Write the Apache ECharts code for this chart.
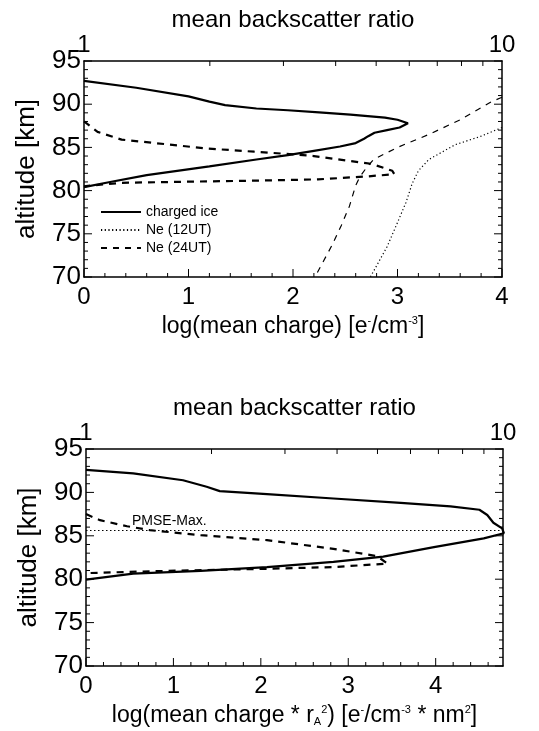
<!DOCTYPE html>
<html>
<head>
<meta charset="utf-8">
<title>mean charge profiles</title>
<script src="https://cdn.jsdelivr.net/npm/echarts@6/dist/echarts.min.js"></script>
<style>
  html, body { margin: 0; padding: 0; background: #fff; }
  #chart { width: 539px; height: 731px; }
</style>
</head>
<body>
<div id="chart"></div>
<script>
// profiles as [log value, altitude km]
var iceTop = [[0, 92.7], [0.5, 91.9], [1.0, 90.9], [1.2, 90.3], [1.35, 89.9], [1.65, 89.5], [1.95, 89.3],
  [2.25, 89.05], [2.55, 88.8], [2.88, 88.45], [3.0, 88.2], [3.1, 87.8], [3.02, 87.3], [2.9, 87.0],
  [2.78, 86.7], [2.72, 86.3], [2.68, 86.0], [2.6, 85.5], [2.45, 85.1], [2.2, 84.6], [1.95, 84.1],
  [1.65, 83.6], [1.2, 82.8], [0.6, 81.8], [0.25, 81.0], [0, 80.4]]
var iceDashTop = [[0, 88.0], [0.13, 86.8], [0.36, 85.9], [0.68, 85.5], [1.15, 84.9], [1.63, 84.5],
  [2.0, 84.2], [2.2, 84.0], [2.5, 83.5], [2.75, 83.1], [2.95, 82.3], [2.97, 81.9], [2.72, 81.65],
  [2.24, 81.3], [1.63, 81.15], [0.84, 81.0], [0.36, 80.9], [0, 80.5]]
var ne12 = [[4.0, 87.3], [3.8, 86.3], [3.55, 85.3], [3.3, 83.6], [3.2, 82.3], [3.14, 80.8], [3.08, 78.6],
  [3.0, 76.3], [2.9, 73.5], [2.8, 71.3], [2.74, 70.0]]
var ne24 = [[4.0, 90.8], [3.9, 90.3], [3.6, 88.2], [3.3, 86.5], [3.0, 85.0], [2.77, 83.6], [2.7, 82.6],
  [2.64, 81.6], [2.6, 80.6], [2.54, 78.2], [2.46, 75.9], [2.37, 73.6], [2.29, 71.8], [2.21, 70.0]]

var iceBot = [[0, 92.6], [0.54, 92.2], [1.11, 91.4], [1.38, 90.65], [1.53, 90.15], [2.07, 89.8],
  [2.83, 89.3], [3.6, 88.8], [4.17, 88.4], [4.5, 88.0], [4.59, 87.4], [4.66, 86.5], [4.76, 85.85],
  [4.78, 85.3], [4.55, 84.7], [3.98, 83.7], [3.4, 82.6], [2.83, 82.0], [2.07, 81.4], [1.31, 80.96],
  [0.54, 80.65], [0, 79.96]]
var iceDashBot = [[0, 87.5], [0.16, 86.8], [0.47, 86.1], [0.73, 85.65], [1.31, 85.07], [2.07, 84.5],
  [2.83, 83.5], [3.33, 82.65], [3.45, 81.8], [2.83, 81.4], [2.07, 81.2], [0.92, 80.96], [0, 80.7]]

var pmseAlt = 85.6
var altRange = [70, 95]
var ratioRange = [1, 10]
var xMaxTop = 4
var xMaxBot = 4.77

// tick values of the frame (drawn inward on all four sides)
var altMajor = [70, 75, 80, 85, 90, 95]
var altMinor = [71, 72, 73, 74, 76, 77, 78, 79, 81, 82, 83, 84, 86, 87, 88, 89, 91, 92, 93, 94]
var chargeMajor = [0, 1, 2, 3, 4]
var chargeMinor = [0.2, 0.4, 0.6, 0.8, 1.2, 1.4, 1.6, 1.8, 2.2, 2.4, 2.6, 2.8, 3.2, 3.4, 3.6, 3.8,
  4.2, 4.4, 4.6]
var ratioMinor = [2, 3, 4, 5, 6, 7, 8, 9]

var font = '"Liberation Sans", Arial, Helvetica, sans-serif'
var rich = {
  sup: { fontSize: 11, fontFamily: font, color: '#000', verticalAlign: 'top', lineHeight: 12 },
  sub: { fontSize: 11, fontFamily: font, color: '#000', verticalAlign: 'bottom', lineHeight: 12 }
}

var frameLine = { show: true, onZero: false, lineStyle: { color: '#000', width: 1.5 } }
var noTick = { show: false }

function valueX(grid, max, name) {
  return {
    gridIndex: grid, type: 'value', position: 'bottom', min: 0, max: max, interval: 1,
    axisLine: frameLine, axisTick: noTick, minorTick: noTick,
    splitLine: { show: false },
    axisLabel: { color: '#000', fontSize: 24, fontFamily: font, margin: 8, showMaxLabel: max === 4 },
    name: name, nameLocation: 'middle', nameGap: 38,
    nameTextStyle: { color: '#000', fontSize: 23, fontFamily: font, rich: rich }
  }
}

function ratioX(grid) {
  return {
    gridIndex: grid, type: 'log', logBase: 10, position: 'top', min: ratioRange[0], max: ratioRange[1],
    axisLine: frameLine, axisTick: noTick, minorTick: noTick,
    splitLine: { show: false },
    axisLabel: { color: '#000', fontSize: 24, fontFamily: font, margin: 4 },
    name: 'mean backscatter ratio', nameLocation: 'middle', nameGap: 28,
    nameTextStyle: { color: '#000', fontSize: 24, fontFamily: font }
  }
}

function altY(grid, side) {
  var left = side === 'left'
  return {
    gridIndex: grid, type: 'value', position: side, min: altRange[0], max: altRange[1], interval: 5,
    axisLine: frameLine, axisTick: noTick, minorTick: noTick,
    splitLine: { show: false },
    axisLabel: { show: left, color: '#000', fontSize: 26, fontFamily: font, margin: 3 },
    name: left ? 'altitude [km]' : '', nameLocation: 'middle', nameGap: 44,
    nameTextStyle: { color: '#000', fontSize: 26, fontFamily: font }
  }
}

function profile(name, data, xi, yi, style) {
  return {
    name: name, type: 'line', xAxisIndex: xi, yAxisIndex: yi, data: data,
    symbol: 'none', smooth: false,
    itemStyle: { color: '#000', opacity: 0 },
    lineStyle: Object.assign({ color: '#000' }, style)
  }
}

// side: 0 left, 1 right, 2 bottom, 3 top; item = [tick value, side, length px]
function ticks(values, side, len, max) {
  return values.filter(function (v) { return max == null || v <= max })
    .map(function (v) { return [v, side, len] })
}

function tickSeries(xi, yi, xr, data) {
  return {
    type: 'custom', name: 'frame ticks', xAxisIndex: xi, yAxisIndex: yi,
    silent: true, clip: false, z: 3,
    encode: { x: -1, y: -1 },
    data: data,
    renderItem: function (params, api) {
      var v = api.value(0), side = api.value(1), len = api.value(2)
      var p, d
      if (side === 0) { p = api.coord([xr[0], v]); d = [len, 0] }
      else if (side === 1) { p = api.coord([xr[1], v]); d = [-len, 0] }
      else if (side === 2) { p = api.coord([v, altRange[0]]); d = [0, -len] }
      else { p = api.coord([v, altRange[1]]); d = [0, len] }
      return {
        type: 'line',
        shape: { x1: p[0], y1: p[1], x2: p[0] + d[0], y2: p[1] + d[1] },
        style: { stroke: '#000', lineWidth: 1 }
      }
    }
  }
}

function frameTicks(xMax) {
  return [].concat(
    ticks(altMajor, 0, 8), ticks(altMinor, 0, 4),
    ticks(altMajor, 1, 8), ticks(altMinor, 1, 4),
    ticks(chargeMajor, 2, 8, xMax), ticks(chargeMinor, 2, 4, xMax)
  )
}

var solid = { width: 2.2, type: 'solid' }
var thickDash = { width: 2.2, type: [7, 6] }
var thinDash = { width: 1.2, type: [6, 6] }
var dotted = { width: 1.2, type: [1.2, 2.5] }

var chart = echarts.init(document.getElementById('chart'))

var bottomIce = profile('charged ice', iceBot, 2, 2, solid)
bottomIce.markLine = {
  symbol: 'none', silent: true,
  data: [{ yAxis: pmseAlt }],
  lineStyle: { color: '#000', width: 1.2, type: [1.5, 2.5] },
  label: {
    show: true, formatter: 'PMSE-Max.', position: 'insideStartTop', distance: 2,
    color: '#000', fontSize: 14, fontFamily: font, padding: [0, 0, 0, 44]
  }
}

chart.setOption({
  animation: false,
  grid: [
    { left: 84, top: 61, width: 418, height: 216 },
    { left: 86, top: 449, width: 417, height: 217 }
  ],
  legend: {
    data: ['charged ice', 'Ne (12UT)', 'Ne (24UT)'],
    orient: 'vertical', left: 95, top: 200,
    itemWidth: 40, itemHeight: 14, itemGap: 4,
    itemStyle: { opacity: 0 },
    textStyle: { color: '#000', fontSize: 14, fontFamily: font }
  },
  xAxis: [
    valueX(0, xMaxTop, 'log(mean charge) [e{sup|-}/cm{sup|-3}]'),
    ratioX(0),
    valueX(1, xMaxBot, 'log(mean charge * r{sub|A}{sup|2}) [e{sup|-}/cm{sup|-3} * nm{sup|2}]'),
    ratioX(1)
  ],
  yAxis: [altY(0, 'left'), altY(0, 'right'), altY(1, 'left'), altY(1, 'right')],
  series: [
    profile('charged ice', iceTop, 0, 0, solid),
    profile('Ne (12UT)', ne12, 0, 0, dotted),
    profile('Ne (24UT)', ne24, 0, 0, thinDash),
    profile('charged ice (dashed)', iceDashTop, 0, 0, thickDash),
    bottomIce,
    profile('charged ice (dashed)', iceDashBot, 2, 2, thickDash),
    tickSeries(0, 0, [0, xMaxTop], frameTicks(xMaxTop)),
    tickSeries(2, 2, [0, xMaxBot], frameTicks(xMaxBot)),
    tickSeries(1, 0, ratioRange, ticks(ratioMinor, 3, 5)),
    tickSeries(3, 2, ratioRange, ticks(ratioMinor, 3, 5))
  ]
})
</script>
</body>
</html>
